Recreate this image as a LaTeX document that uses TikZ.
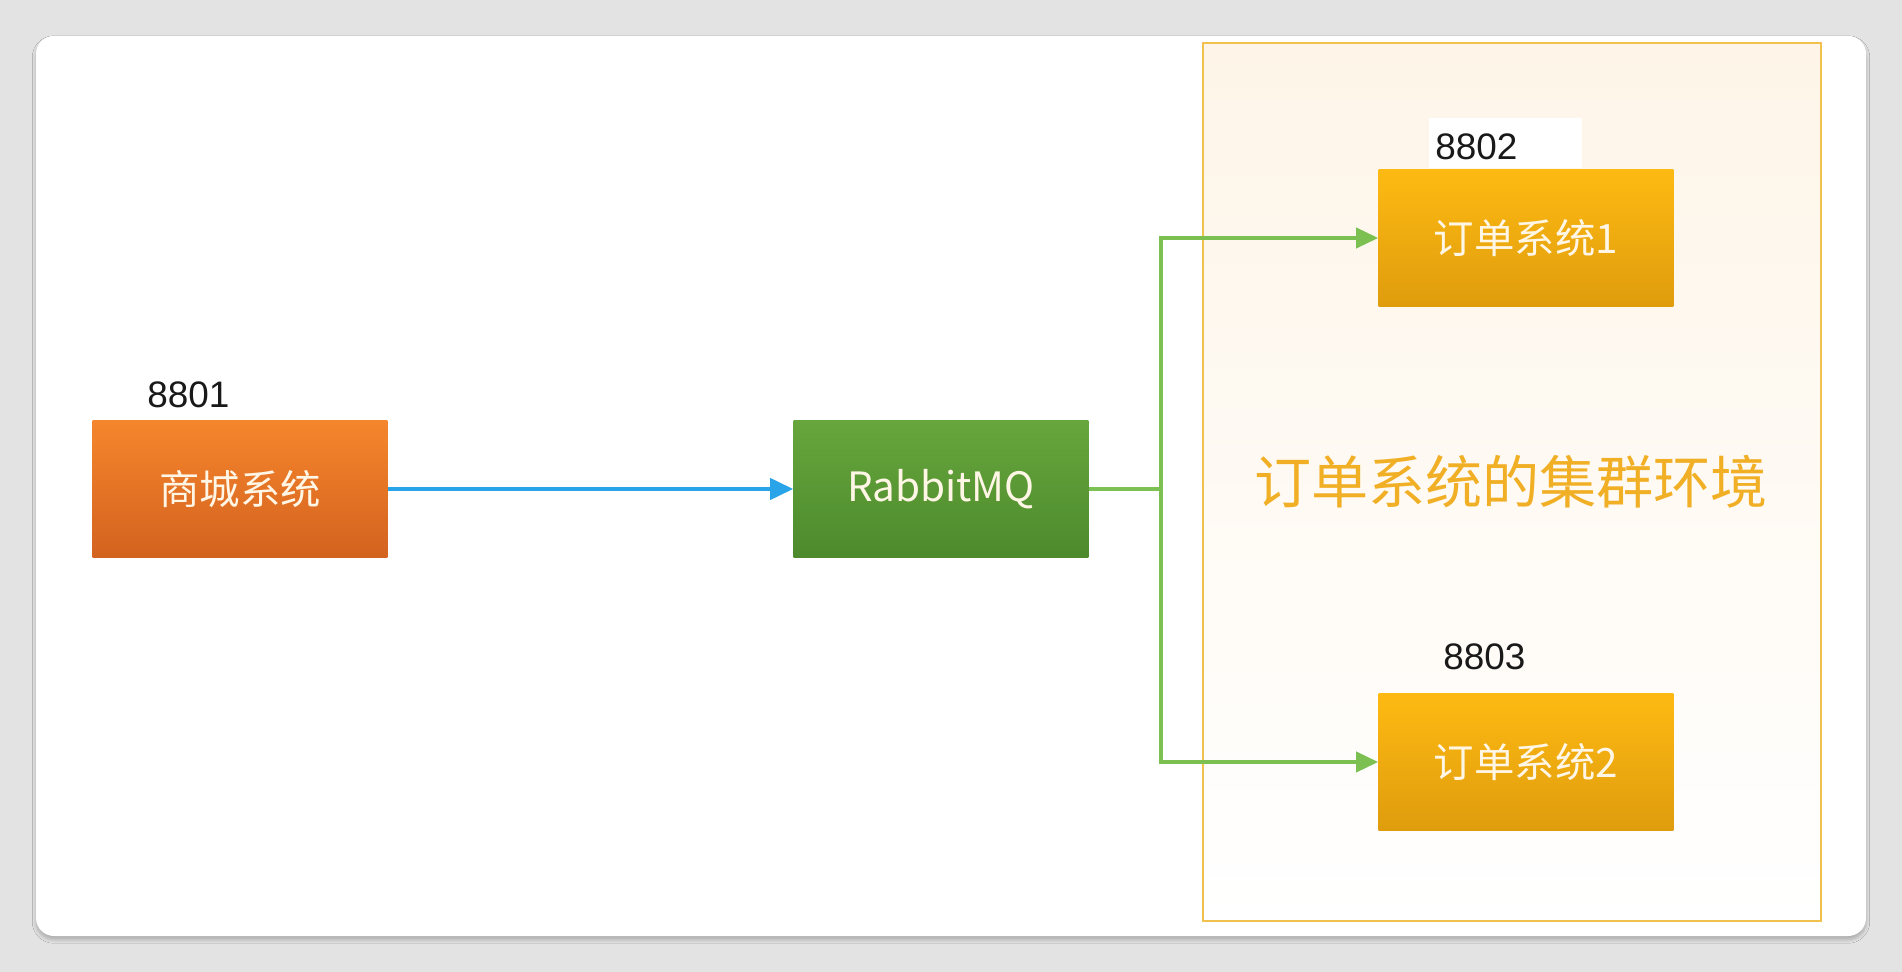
\documentclass[tikz,border=0pt]{standalone}
\usepackage{fontspec}
\setmainfont{Liberation Sans}
\newfontfamily\cjk{Noto Sans CJK SC}
\usetikzlibrary{arrows.meta,shadows.blur}

\definecolor{pageGray}{HTML}{E3E3E3}
\definecolor{mallLight}{HTML}{F6862C}
\definecolor{mallDark}{HTML}{D3621F}
\definecolor{mqLight}{HTML}{67A63C}
\definecolor{mqDark}{HTML}{4C8A2D}
\definecolor{orderLight}{HTML}{FEBA12}
\definecolor{orderDark}{HTML}{DF9C0D}
\definecolor{clusterLine}{HTML}{F1C14E}
\definecolor{clusterFill}{HTML}{FEF5E8}
\definecolor{clusterText}{HTML}{F1AF26}
\definecolor{sendBlue}{HTML}{2AA4E8}
\definecolor{routeGreen}{HTML}{7DC052}
\definecolor{boxText}{HTML}{FFF6E6}

\tikzset{
  sysbox/.style={minimum width=5.9cm, minimum height=2.76cm, inner sep=0pt,
    text=boxText, font=\cjk\fontsize{23}{28}\selectfont},
  portlabel/.style={anchor=west, inner sep=0pt, text=black!90,
    font=\fontsize{21}{25}\selectfont},
  send/.style={draw=sendBlue, line width=2.4pt,
    -{Triangle[length=0.46cm,width=0.42cm]}},
  route/.style={draw=routeGreen, line width=2.2pt},
  routearrow/.style={route, -{Triangle[length=0.44cm,width=0.4cm]}}
}

\begin{document}
\begin{tikzpicture}[x=0.02cm, y=-0.02cm]
  \useasboundingbox (0,0) rectangle (1902,972);
  \fill [pageGray] (0,0) rectangle (1902,972);
  \fill [white, rounded corners=0.36cm, blur shadow={shadow blur steps=8,
      shadow xshift=0pt, shadow yshift=-2pt, shadow opacity=25}]
    (36,36) rectangle (1866,936);

  % cluster of order services
  \draw [clusterLine, line width=1.5pt, top color=clusterFill, bottom color=white]
    (1203,43) rectangle (1821,921);
  \node [text=clusterText, font=\cjk\fontsize{32.5}{38}\selectfont]
    (clustertitle) at (1511,482) {订单系统的集群环境};

  % services
  \node [sysbox, top color=mallLight, bottom color=mallDark] (mall) at (240,489) {商城系统};
  \node [sysbox, top color=mqLight, bottom color=mqDark] (mq) at (941,489) {RabbitMQ};
  \node [sysbox, top color=orderLight, bottom color=orderDark] (order1) at (1526,238) {订单系统1};
  \node [sysbox, top color=orderLight, bottom color=orderDark] (order2) at (1526,762) {订单系统2};

  % ports
  \node [portlabel] (port1) at (147,395) {8801};
  \fill [white] (1429,118) rectangle (1582,168);
  \node [portlabel] (port2) at (1435,147) {8802};
  \node [portlabel] (port3) at (1443,657) {8803};

  % messages
  \draw [send] (mall) -- (mq);
  \coordinate (split) at (1161,489);
  \draw [route] (mq) -- (split);
  \draw [routearrow] (split) |- (order1);
  \draw [routearrow] (split) |- (order2);
\end{tikzpicture}
\end{document}
